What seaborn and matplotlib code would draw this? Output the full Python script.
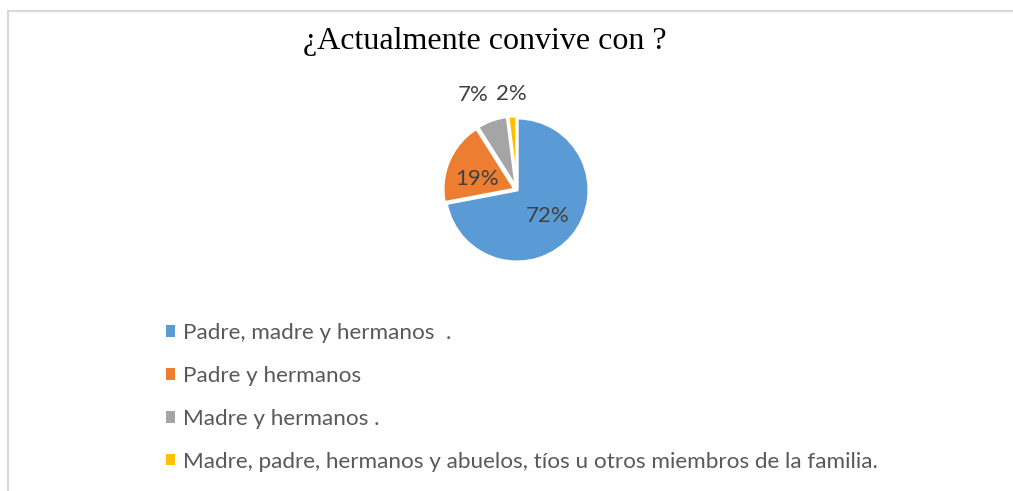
import numpy as np
import matplotlib
matplotlib.use("Agg")
import matplotlib.pyplot as plt
from matplotlib.lines import Line2D
import seaborn as sns

# ---- data ----
categories = [
    "Padre, madre y hermanos  .",
    "Padre y hermanos",
    "Madre y hermanos .",
    "Madre, padre, hermanos y abuelos, tíos u otros miembros de la familia.",
]
values = [72, 19, 7, 2]
pct_labels = ["72%", "19%", "7%", "2%"]
colors = ["#5B9BD5", "#ED7D31", "#A5A5A5", "#FFC000"]
title = "¿Actualmente convive con ?"

sns.set_theme(style="white")
plt.rcParams["font.family"] = ["Lato", "DejaVu Sans"]

W, H = 1013, 491
fig = plt.figure(figsize=(W / 100, H / 100), dpi=100)
fig.patch.set_facecolor("white")

# chart-area border (light gray, top and left visible)
bc = "#D9D9D9"
fig.add_artist(Line2D([8 / W, 1.0], [1 - 11 / H, 1 - 11 / H], transform=fig.transFigure,
                      color=bc, lw=1.6))
fig.add_artist(Line2D([8 / W, 8 / W], [0, 1 - 11 / H], transform=fig.transFigure,
                      color=bc, lw=1.6))

# pie axes: centre (517,190) px, radius 72 px
cx, cy, r = 517, 190, 72
lim = 1.6
side = 2 * lim * r
ax = fig.add_axes([(cx - side / 2) / W, (H - cy - side / 2) / H, side / W, side / H])
explode = [0, 0.03, 0.03, 0.03]
wedges, _ = ax.pie(values, colors=colors, startangle=90, counterclock=False,
                   explode=explode, radius=1.0,
                   wedgeprops=dict(edgecolor="white", linewidth=2.2))
ax.set_xlim(-lim, lim)
ax.set_ylim(-lim, lim)
ax.set_aspect("equal")
ax.axis("off")

# data labels (radial distance and small angular nudge per label)
dists = [0.56, 0.55, 1.42, 1.30]
nudges = [0, 8, 5, 0]
for w, lab, d, nd in zip(wedges, pct_labels, dists, nudges):
    ang = np.deg2rad((w.theta1 + w.theta2) / 2 + nd)
    x0, y0 = w.center
    ax.text(x0 + d * np.cos(ang), y0 + d * np.sin(ang), lab, ha="center", va="center",
            fontsize=16, color="#404040")

fig.text(485 / W, 1 - 42 / H, title, ha="center", va="center",
         fontsize=23, color="black", family=["Liberation Serif", "DejaVu Serif"])

leg = fig.legend(wedges, categories, loc="upper left",
                 bbox_to_anchor=(166 / W, 1 - 323 / H), frameon=False,
                 fontsize=16.2, labelcolor="#595959", handlelength=0.4, handleheight=0.4,
                 handletextpad=0.36, labelspacing=1.02, borderpad=0, borderaxespad=0)
for h in leg.legend_handles:
    h.set_edgecolor("none")

fig.savefig("out.png", dpi=100, facecolor="white")
